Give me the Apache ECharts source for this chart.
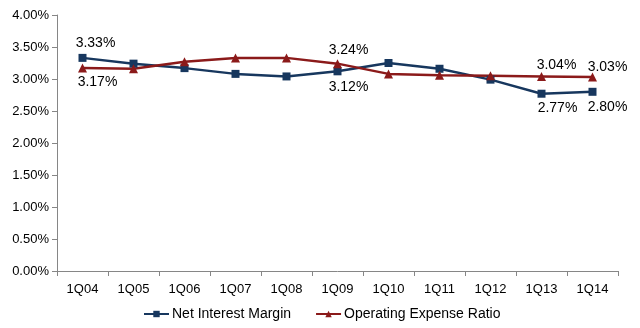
<!DOCTYPE html>
<html>
<head>
<meta charset="utf-8">
<script src="https://cdn.jsdelivr.net/npm/echarts@6/dist/echarts.min.js"></script>
<style>
  html, body { margin: 0; padding: 0; background: #fff; }
  #chart { width: 640px; height: 328px; }
</style>
</head>
<body>
<div id="chart"></div>
<script>
var quarters = ['1Q04','1Q05','1Q06','1Q07','1Q08','1Q09','1Q10','1Q11','1Q12','1Q13','1Q14'];
var netInterestMargin = [3.33, 3.24, 3.17, 3.08, 3.04, 3.12, 3.25, 3.16, 2.99, 2.77, 2.80];
var operatingExpenseRatio = [3.17, 3.16, 3.27, 3.33, 3.33, 3.24, 3.08, 3.06, 3.05, 3.04, 3.03];
// labelled points: index -> [position, distance, x offset]
var nimLabels = {0: ['top', 4, 13], 5: ['bottom', 5, 11], 9: ['bottom', 3, 16], 10: ['bottom', 4, 15]};
var oerLabels = {0: ['bottom', 3, 15], 5: ['top', 2, 11], 9: ['top', 0, 15], 10: ['top', -2, 15]};

var myChart = echarts.init(document.getElementById('chart'));

function buildData(values, labels){
    return values.map(function(v, i){
        var item = {value: v};
        var l = labels[i];
        if(l){
            item.label = {show: true, position: l[0], distance: l[1], offset: [l[2], 0]};
        }
        return item;
    });
}

var labelStyle = {
    show: false,
    color: '#000',
    fontFamily: 'Liberation Sans',
    fontSize: 14,
    formatter: function(p){ return p.value.toFixed(2) + '%'; }
};

var option = {
    animation: false,
    textStyle: {fontFamily: 'Liberation Sans'},
    grid: {left: 57, right: 22, top: 15, bottom: 57},
    legend: {
        bottom: 2,
        left: 138,
        itemWidth: 25,
        itemHeight: 8,
        itemGap: 24,
        textStyle: {color: '#000', fontSize: 14, fontFamily: 'Liberation Sans', padding: [0, 0, 0, -2]},
        data: ['Net Interest Margin', 'Operating Expense Ratio']
    },
    xAxis: {
        type: 'category',
        data: quarters,
        boundaryGap: true,
        axisLine: {lineStyle: {color: '#868686', width: 1}},
        axisTick: {show: true, length: 5, lineStyle: {color: '#868686'}},
        axisLabel: {color: '#000', fontSize: 13, margin: 12}
    },
    yAxis: {
        type: 'value',
        min: 0,
        max: 4,
        interval: 0.5,
        axisLine: {show: true, lineStyle: {color: '#868686', width: 1}},
        axisTick: {show: true, length: 5, lineStyle: {color: '#868686'}},
        splitLine: {show: false},
        axisLabel: {
            color: '#000', fontSize: 13, margin: 8,
            formatter: function(v){ return v.toFixed(2) + '%'; }
        }
    },
    series: [
        {
            name: 'Net Interest Margin',
            type: 'line',
            symbol: 'rect',
            symbolSize: 8,
            color: '#17375E',
            lineStyle: {width: 2.5, color: '#17375E'},
            itemStyle: {color: '#17375E'},
            label: labelStyle,
            data: buildData(netInterestMargin, nimLabels)
        },
        {
            name: 'Operating Expense Ratio',
            type: 'line',
            symbol: 'triangle',
            symbolSize: 9,
            color: '#8B1A1A',
            lineStyle: {width: 2.5, color: '#8B1A1A'},
            itemStyle: {color: '#8B1A1A'},
            label: labelStyle,
            data: buildData(operatingExpenseRatio, oerLabels)
        }
    ]
};
myChart.setOption(option);
</script>
</body>
</html>
